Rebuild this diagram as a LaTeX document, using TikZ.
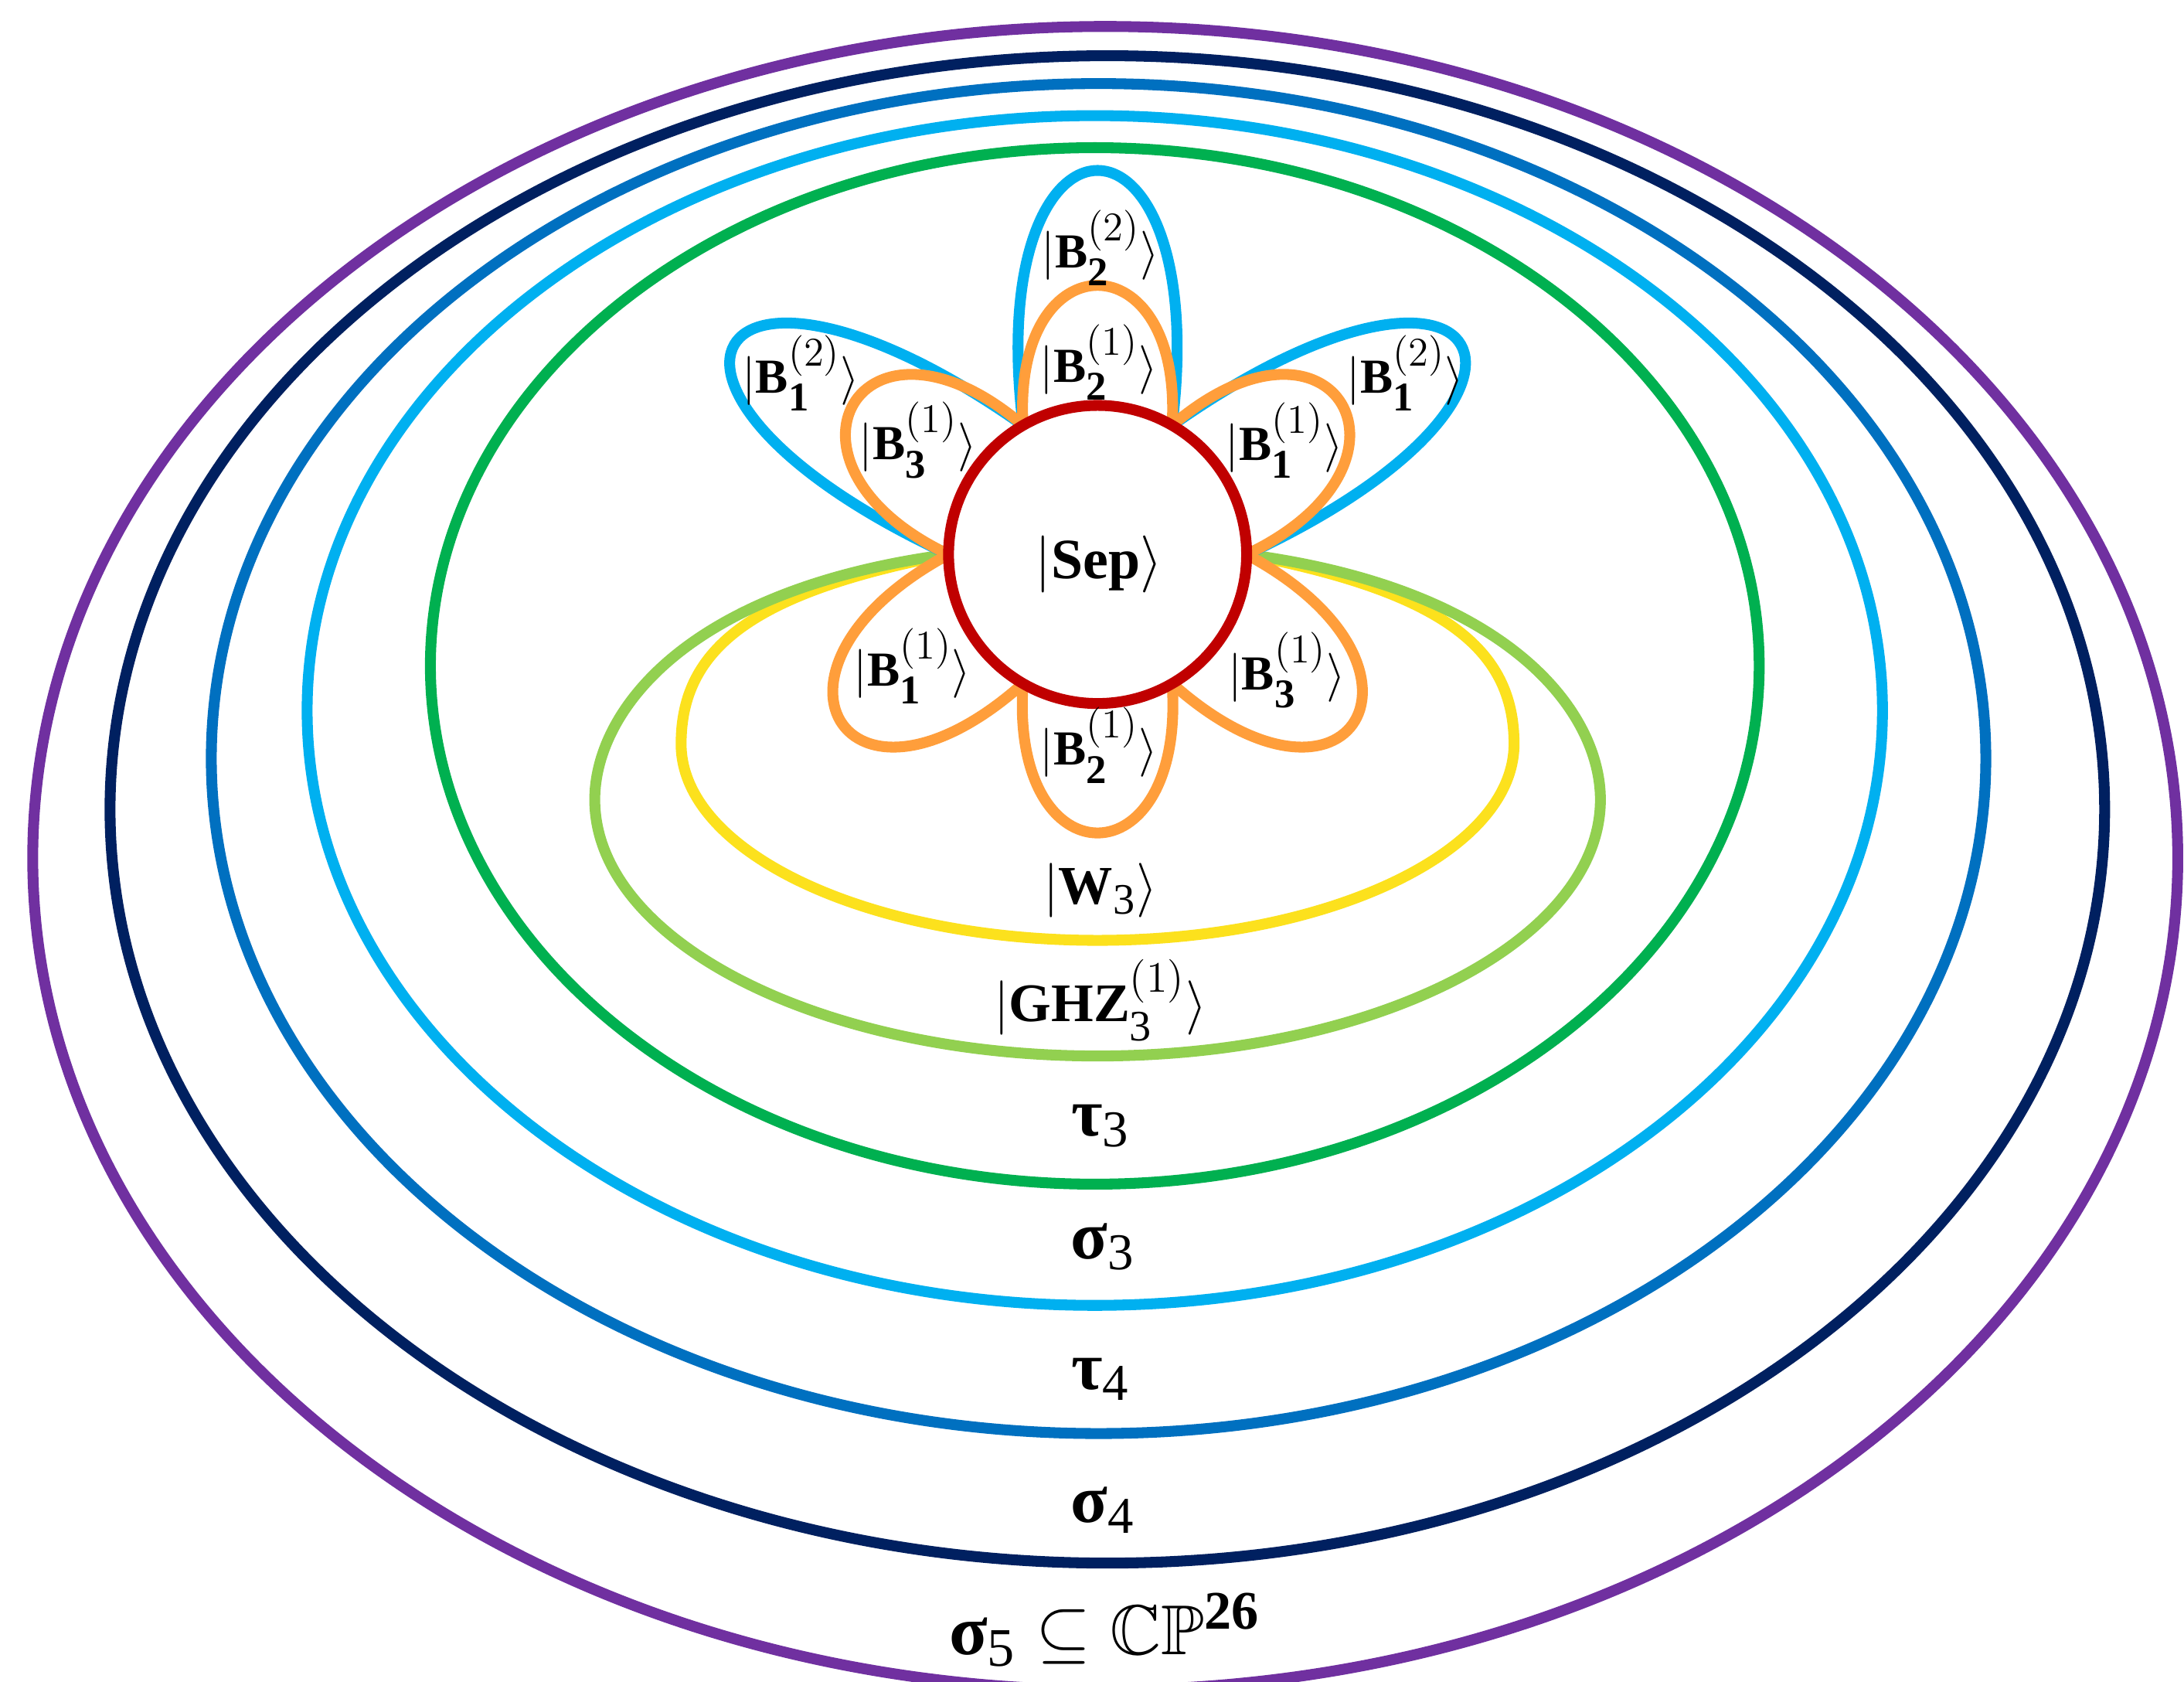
\RequirePackage{fix-cm}
\documentclass[tikz,border=0pt]{standalone}
\usepackage{amsmath,amssymb}
\usepackage{fontspec}
\setmainfont{Liberation Serif}
\usetikzlibrary{calc}
\DeclareMathSizes{18}{18}{15}{11}
\DeclareMathSizes{20}{20}{16}{12}
\DeclareMathSizes{21}{21}{16}{12}
\DeclareMathSizes{25}{25}{19}{14}
\DeclareMathSizes{26}{26}{20}{15}
\definecolor{cpurple}{HTML}{7030A0}
\definecolor{cnavy}{HTML}{002060}
\definecolor{cblue}{HTML}{0070C0}
\definecolor{clblue}{HTML}{00B0F0}
\definecolor{cgreen}{HTML}{00B050}
\definecolor{clgreen}{HTML}{92D050}
\definecolor{cyellow}{HTML}{FCE11D}
\definecolor{corange}{HTML}{FF9E3B}
\definecolor{cred}{HTML}{C00000}
% #1 style, #2 petal centre angle, #3 direction, #4 length, #5 spread
\newcommand\petal[5]{%
  \draw[#1] ($(C)+({#2+30}:107)$)
    .. controls ($(C)+({#2+30}:107)+(#3:#4)+({#3+90}:#5)$)
    and ($(C)+({#2-30}:107)+(#3:#4)+({#3-90}:#5)$)
    .. ($(C)+({#2-30}:107)$);}
\begin{document}
\begin{tikzpicture}[x=0.018023cm,y=0.018023cm,
  ring/.style={line width=4pt},
  lab/.style={inner sep=0pt,font=\fontsize{18}{22}\selectfont},
  labm/.style={inner sep=0pt,font=\fontsize{20}{24}\selectfont},
  labg/.style={inner sep=0pt,font=\fontsize{25}{30}\selectfont}]
\useasboundingbox (0,0) rectangle (1568,1207);
\clip (0,0) rectangle (1568,1207);
\fill[white] (0,0) rectangle (1568,1207);
\coordinate (C) at (788,809);
% outer ellipses
\draw[ring,cpurple] (793.5,591) ellipse [x radius=770,y radius=597];
\draw[ring,cnavy] (795,626) ellipse [x radius=716,y radius=541];
\draw[ring,cblue] (788.7,662.5) ellipse [x radius=637,y radius=484.5];
\draw[ring,clblue] (786,697) ellipse [x radius=565.5,y radius=427];
\draw[ring,cgreen] (786,729) ellipse [x radius=477,y radius=372];
% W and GHZ loops
\draw[ring,cyellow] (681,809) .. controls (541,782) and (489,742) .. (489,673)
  arc[start angle=180,end angle=360,x radius=299,y radius=141]
  .. controls (1087,742) and (1035,782) .. (895,809);
\draw[ring,clgreen] (681,809) .. controls (491,784) and (427,695) .. (427,633)
  arc[start angle=180,end angle=360,x radius=361,y radius=184]
  .. controls (1149,695) and (1085,784) .. (895,809);
% blue petals
\petal{ring,clblue}{90}{90}{244}{30}
\petal{ring,clblue}{150}{150}{278}{25}
\petal{ring,clblue}{30}{30}{278}{25}
% orange petals
\petal{ring,corange}{90}{90}{134}{8}
\petal{ring,corange}{30}{33}{151}{20}
\petal{ring,corange}{150}{147}{151}{20}
\petal{ring,corange}{-30}{-35}{170}{20}
\petal{ring,corange}{210}{215}{170}{20}
\petal{ring,corange}{270}{270}{143}{10}
% separable circle
\draw[ring,cred,fill=white] (C) circle [radius=107];
% labels
\node[inner sep=0pt,font=\fontsize{21}{25}\selectfont] (sep) at (789,802) {$|\textbf{Sep}\rangle$};
\node[lab] (b22) at (790,1029) {$|\textbf{B}^{(2)}_{\textbf{2}}\rangle$};
\node[lab] (b21t) at (789,947) {$|\textbf{B}^{(1)}_{\textbf{2}}\rangle$};
\node[lab] (b12l) at (575,939) {$|\textbf{B}^{(2)}_{\textbf{1}}\rangle$};
\node[lab] (b12r) at (1009,939) {$|\textbf{B}^{(2)}_{\textbf{1}}\rangle$};
\node[lab] (b31ul) at (659,891) {$|\textbf{B}^{(1)}_{\textbf{3}}\rangle$};
\node[lab] (b11ur) at (922,891) {$|\textbf{B}^{(1)}_{\textbf{1}}\rangle$};
\node[lab] (b11ll) at (655,729) {$|\textbf{B}^{(1)}_{\textbf{1}}\rangle$};
\node[lab] (b31lr) at (924,726) {$|\textbf{B}^{(1)}_{\textbf{3}}\rangle$};
\node[lab] (b21b) at (789,672) {$|\textbf{B}^{(1)}_{\textbf{2}}\rangle$};
\node[labm] (w3) at (790,568) {$|\textbf{W}_{\textrm{3}}\rangle$};
\node[labm] (ghz) at (790,489) {$|\textbf{GHZ}^{(1)}_{\textrm{3}}\rangle$};
\node[labg] (tau3) at (790,399) {$\textbf{τ}_{\textrm{3}}$};
\node[labg] (sig3) at (792,312) {$\textbf{σ}_{\textrm{3}}$};
\node[labg] (tau4) at (790,217) {$\textbf{τ}_{\textrm{4}}$};
\node[labg] (sig4) at (792,123) {$\textbf{σ}_{\textrm{4}}$};
\node[inner sep=0pt,font=\fontsize{26}{31}\selectfont] (sig5) at (793,37) {$\textbf{σ}_{\textrm{5}}\subseteq\mathbb{C}\mathbb{P}^{\textbf{26}}$};
\end{tikzpicture}
\end{document}
